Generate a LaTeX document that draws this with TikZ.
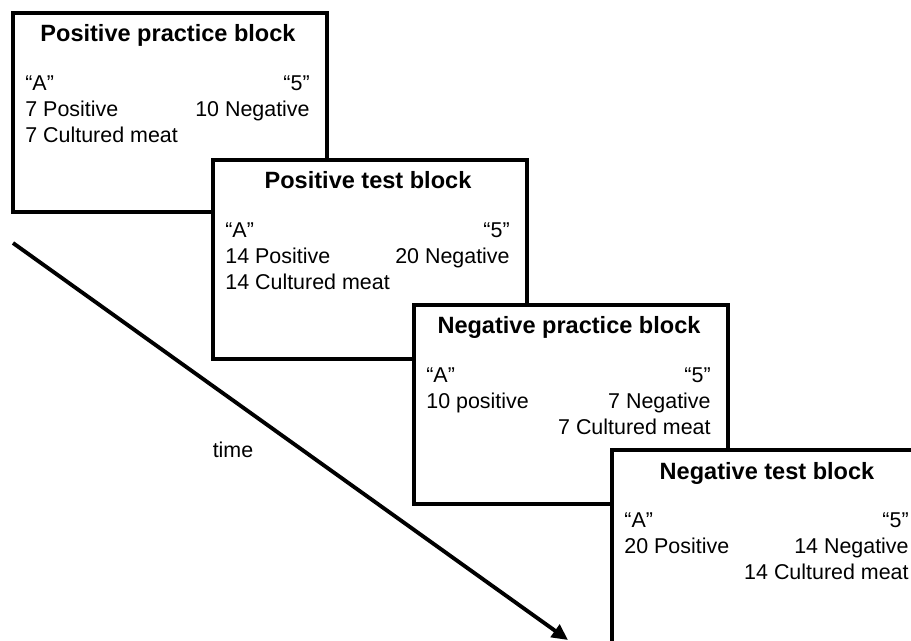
\documentclass[tikz,border=0pt]{standalone}
\usepackage{fontspec}
\setmainfont{Liberation Sans}
\usetikzlibrary{arrows.meta}

\tikzset{
  blockbox/.style={draw, line width=2.3pt, fill=white, anchor=north west,
    minimum width=6.28cm, minimum height=3.98cm, inner sep=0pt},
  blocktitle/.style={font=\fontsize{13.4}{16}\selectfont\bfseries, anchor=base, inner sep=0pt},
  blocktext/.style={font=\fontsize{12.2}{15}\selectfont, inner sep=0pt},
}

\begin{document}
\begin{tikzpicture}[x=0.02cm, y=-0.02cm]
  \clip (0,0) rectangle (911,641);
  % ---- four blocks, each one lying over the one before ----
  \foreach \i/\x/\y/\t/\l/\r in {
    1/11/11/{Positive practice block}/{“A”\\7 Positive\\7 Cultured meat}/{“5”\\10 Negative},
    2/211/158/{Positive test block}/{“A”\\14 Positive\\14 Cultured meat}/{“5”\\20 Negative},
    3/412/303/{Negative practice block}/{“A”\\10 positive}/{“5”\\7 Negative\\7 Cultured meat},
    4/610/448/{Negative test block}/{“A”\\20 Positive}/{“5”\\14 Negative\\14 Cultured meat}} {
    \node[blockbox] (box\i) at (\x,\y) {};
    \node[blocktitle] (title\i) at (\x+157,\y+31) {\t};
    \node[blocktext, anchor=north west, align=left] (left\i) at (\x+14,\y+64) {\l};
    \node[blocktext, anchor=north east, align=right] (right\i) at (\x+299,\y+64) {\r};
  }
  % ---- time arrow ----
  \coordinate (tstart) at (13,243);
  \coordinate (tend) at (568,640);
  \draw[line width=2.2pt, -{Triangle[length=0.32cm, width=0.3cm]}] (tstart) -- (tend);
  \node[blocktext, anchor=base] (time) at (233,457) {time};
\end{tikzpicture}
\end{document}
